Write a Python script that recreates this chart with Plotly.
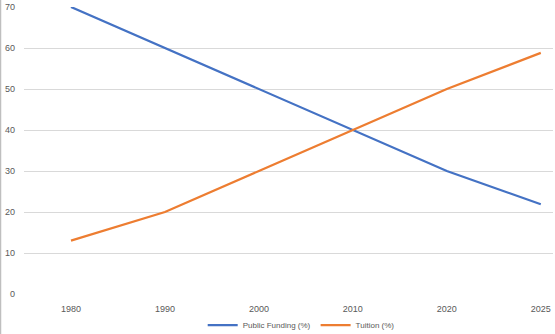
import plotly.graph_objects as go

years = ["1980", "1990", "2000", "2010", "2020", "2025"]
public_funding = [70, 60, 50, 40, 30, 21.9]
tuition = [13, 20, 30, 40, 50, 58.8]
y_ticks = [0, 10, 20, 30, 40, 50, 60, 70]

idx = list(range(len(years)))

fig = go.Figure()
fig.add_trace(go.Scatter(x=idx, y=public_funding, mode="lines", name="Public Funding (%)",
                         line=dict(color="#4472C4", width=2.25)))
fig.add_trace(go.Scatter(x=idx, y=tuition, mode="lines", name="Tuition (%)",
                         line=dict(color="#ED7D31", width=2.25)))

font = dict(family="Liberation Sans, Arial, sans-serif", size=9, color="#595959")

fig.update_layout(
    width=555, height=334,
    margin=dict(l=24, r=2, t=7, b=40, autoexpand=False),
    paper_bgcolor="white", plot_bgcolor="white",
    font=font,
    showlegend=True,
    legend=dict(orientation="h", x=0.524, xanchor="center",
                yref="container", y=(334 - 325) / 334, yanchor="middle",
                font=dict(family="Liberation Sans, Arial, sans-serif", size=8, color="#595959"),
                bgcolor="rgba(0,0,0,0)"),
    xaxis=dict(range=[-0.5, 5.13], tickmode="array", tickvals=idx, ticktext=years,
               showgrid=False, zeroline=False, showline=False, ticks="",
               ticklabelstandoff=8, fixedrange=True, automargin=False),
    yaxis=dict(range=[0, 70], tickmode="array", tickvals=y_ticks,
               showgrid=True, gridcolor="#D9D9D9", gridwidth=1, zeroline=False,
               showline=False, ticks="", ticklabelstandoff=8, automargin=False),
)

fig.add_shape(type="line", xref="paper", yref="paper",
              x0=-23.5/529, x1=-23.5/529, y0=-40/287, y1=1 + 7/287,
              line=dict(color="#BFBFBF", width=1.5))

fig.write_html("out.html")
